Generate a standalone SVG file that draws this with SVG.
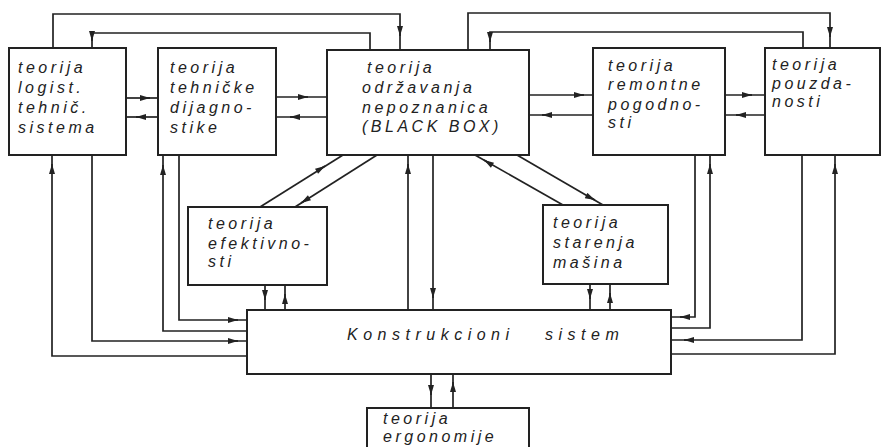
<svg xmlns="http://www.w3.org/2000/svg" width="884" height="447" viewBox="0 0 884 447">
<defs>
<style>
.box{fill:none;stroke:#222;stroke-width:2}
.ln{fill:none;stroke:#222;stroke-width:1.7}
.ah{fill:none;stroke:#222;stroke-width:1.7;marker-end:url(#a)}
text{font-family:"Liberation Sans",Arial,sans-serif;font-style:italic;font-size:16px;letter-spacing:3.5px;fill:#222}
.wide{letter-spacing:5.5px}
</style>
<marker id="a" viewBox="0 0 10 6" refX="10" refY="3" markerWidth="11" markerHeight="6" markerUnits="userSpaceOnUse" orient="auto">
<path d="M0,0 L10,3 L0,6 z" fill="#222"/>
</marker>
</defs>
<rect width="884" height="447" fill="#fff"/>

<g id="n1"><rect class="box" x="9" y="48" width="117" height="107"/>
<text x="18" y="73">teorija</text><text x="18" y="93">logist.</text><text x="18" y="113">tehnič.</text><text x="18" y="133">sistema</text></g>

<g id="n2"><rect class="box" x="158" y="48" width="118" height="107"/>
<text x="170" y="73">teorija</text><text x="170" y="93">tehničke</text><text x="170" y="113">dijagno-</text><text x="170" y="133">stike</text></g>

<g id="n3"><rect class="box" x="327" y="50" width="202" height="105"/>
<text x="367" y="73">teorija</text><text x="362" y="93">održavanja</text><text x="362" y="113">nepoznanica</text><text x="362" y="132">(BLACK BOX)</text></g>

<g id="n4"><rect class="box" x="593" y="48" width="132" height="107"/>
<text x="608" y="71">teorija</text><text x="608" y="90">remontne</text><text x="608" y="110">pogodno-</text><text x="608" y="128">sti</text></g>

<g id="n5"><rect class="box" x="765" y="48" width="115" height="107"/>
<text x="772" y="70">teorija</text><text x="772" y="89">pouzda-</text><text x="772" y="107">nosti</text></g>

<g id="n6"><rect class="box" x="188" y="207" width="139" height="78"/>
<text x="208" y="229">teorija</text><text x="208" y="249">efektivno-</text><text x="208" y="267">sti</text></g>

<g id="n7"><rect class="box" x="543" y="205" width="125" height="79"/>
<text x="553" y="228">teorija</text><text x="553" y="248">starenja</text><text x="553" y="268">mašina</text></g>

<g id="n8"><rect class="box" x="247" y="310" width="424" height="64"/>
<text class="wide" x="347" y="340">Konstrukcioni</text><text class="wide" x="545" y="340">sistem</text></g>

<g id="n9"><rect class="box" x="367" y="408" width="162" height="50"/>
<text x="383" y="424">teorija</text><text x="383" y="442">ergonomije</text></g>

<g id="connectors">
<path class="ln" d="M53,48 V14 H400 V50"/><path class="ah" d="M400,30 V36"/>
<path class="ln" d="M370,50 V33 H92 V48"/><path class="ah" d="M92,34 V41"/>
<path class="ln" d="M468,50 V13 H830 V48"/><path class="ah" d="M830,30 V37"/>
<path class="ln" d="M803,48 V32 H490 V50"/><path class="ah" d="M490,35 V42"/>

<path class="ln" d="M126,98 H158"/><path class="ah" d="M140,98 H150"/>
<path class="ln" d="M158,117 H126"/><path class="ah" d="M146,117 H136"/>
<path class="ln" d="M276,97 H327"/><path class="ah" d="M298,97 H308"/>
<path class="ln" d="M327,117 H276"/><path class="ah" d="M300,117 H290"/>
<path class="ln" d="M529,95 H593"/><path class="ah" d="M574,95 H584"/>
<path class="ln" d="M593,115 H529"/><path class="ah" d="M552,115 H542"/>
<path class="ln" d="M725,95 H765"/><path class="ah" d="M742,95 H752"/>
<path class="ln" d="M765,115 H725"/><path class="ah" d="M746,115 H736"/>

<path class="ln" d="M260,207 L343,155"/><path class="ah" d="M317,171 L325,166"/>
<path class="ln" d="M377,155 L295,207"/><path class="ah" d="M309,198 L301,203"/>
<path class="ln" d="M563,205 L475,155"/><path class="ah" d="M492,165 L484,160"/>
<path class="ln" d="M517,155 L603,205"/><path class="ah" d="M587,196 L595,200"/>

<path class="ln" d="M408,310 V155"/><path class="ah" d="M408,172 V164"/>
<path class="ln" d="M433,155 V310"/><path class="ah" d="M433,290 V298"/>

<path class="ln" d="M265,285 V310"/><path class="ah" d="M265,292 V300"/>
<path class="ln" d="M285,310 V285"/><path class="ah" d="M285,302 V294"/>
<path class="ln" d="M590,284 V310"/><path class="ah" d="M590,291 V299"/>
<path class="ln" d="M610,310 V284"/><path class="ah" d="M610,301 V293"/>
<path class="ln" d="M431,374 V408"/><path class="ah" d="M431,386 V395"/>
<path class="ln" d="M453,408 V374"/><path class="ah" d="M453,391 V382"/>

<path class="ln" d="M247,356 H52 V155"/><path class="ah" d="M52,172 V164"/>
<path class="ln" d="M92,155 V341 H247"/><path class="ah" d="M228,341 H238"/>
<path class="ln" d="M247,331 H163 V155"/><path class="ah" d="M163,173 V165"/>
<path class="ln" d="M179,155 V320 H247"/><path class="ah" d="M228,320 H238"/>

<path class="ln" d="M695,155 V317 H671"/><path class="ah" d="M690,317 H680"/>
<path class="ln" d="M671,328 H710 V155"/><path class="ah" d="M710,172 V164"/>
<path class="ln" d="M802,155 V340 H671"/><path class="ah" d="M694,340 H684"/>
<path class="ln" d="M671,354 H835 V155"/><path class="ah" d="M835,172 V164"/>
</g>
</svg>
